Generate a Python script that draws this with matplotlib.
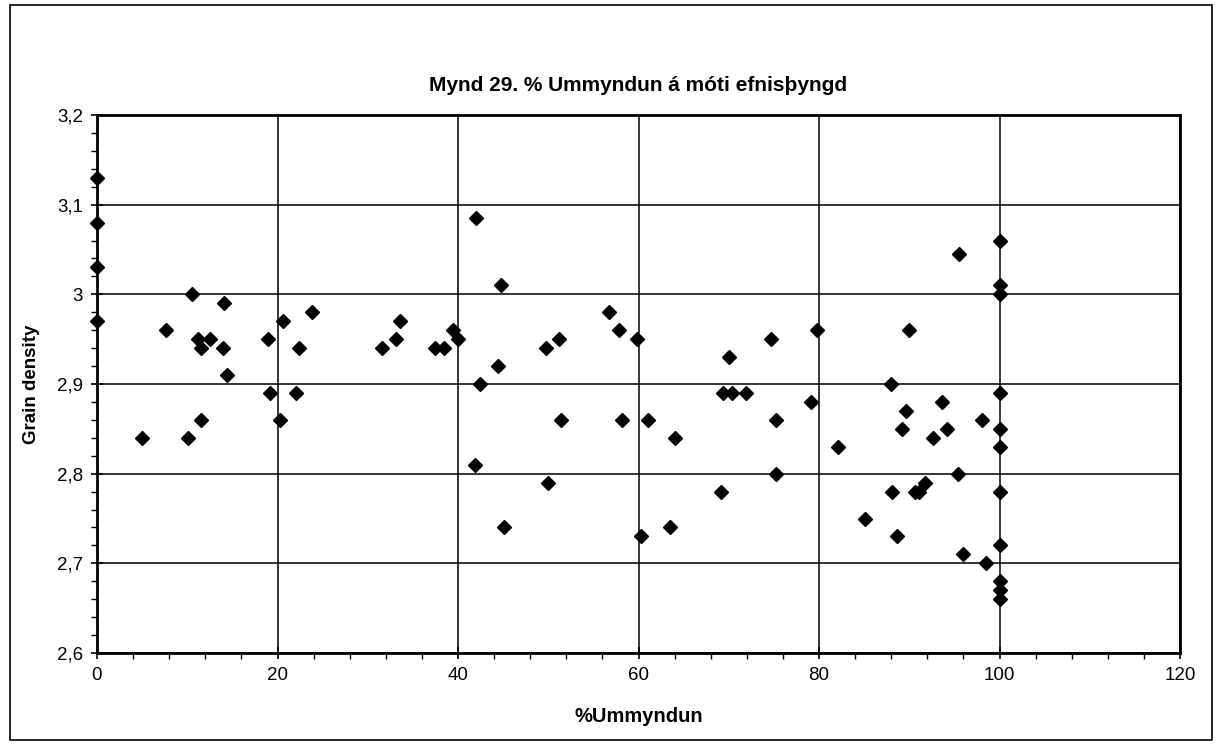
import matplotlib
matplotlib.use("Agg")
import matplotlib.pyplot as plt
from matplotlib.ticker import MultipleLocator, FuncFormatter
from matplotlib.patches import Rectangle

plt.rcParams['font.family'] = ['Liberation Sans', 'DejaVu Sans']

title = "Mynd 29. % Ummyndun á móti efnisþyngd"
xlabel = "%Ummyndun"
ylabel = "Grain density"

ummyndun = [0, 0, 0, 0, 5.0, 7.6, 10.1, 10.5, 11.2, 11.5, 11.5, 12.5, 14.0, 14.1, 14.4,
            19.0, 19.2, 20.3, 20.6, 22.0, 22.4, 23.8, 31.6, 33.1, 33.6, 37.5, 38.4,
            39.4, 40.0, 41.9, 42.0, 42.4, 44.4, 44.8, 45.1, 49.8, 50.0, 51.2, 51.4,
            56.7, 57.8, 58.2, 59.8, 60.3, 61.1, 63.5, 64.0, 69.1, 69.4, 70.0, 70.4,
            71.9, 74.7, 75.2, 75.2, 79.1, 79.8, 82.1, 85.1, 88.0, 88.1, 88.6, 89.2,
            89.6, 90.0, 90.6, 91.1, 91.7, 92.6, 93.6, 94.2, 95.4, 95.5, 96.0, 98.1,
            98.5, 100, 100, 100, 100, 100, 100, 100, 100, 100, 100, 100]
density = [3.13, 3.08, 3.03, 2.97, 2.84, 2.96, 2.84, 3.00, 2.95, 2.94, 2.86, 2.95, 2.94, 2.99, 2.91,
           2.95, 2.89, 2.86, 2.97, 2.89, 2.94, 2.98, 2.94, 2.95, 2.97, 2.94, 2.94,
           2.96, 2.95, 2.81, 3.085, 2.90, 2.92, 3.01, 2.74, 2.94, 2.79, 2.95, 2.86,
           2.98, 2.96, 2.86, 2.95, 2.73, 2.86, 2.74, 2.84, 2.78, 2.89, 2.93, 2.89,
           2.89, 2.95, 2.86, 2.80, 2.88, 2.96, 2.83, 2.75, 2.90, 2.78, 2.73, 2.85,
           2.87, 2.96, 2.78, 2.78, 2.79, 2.84, 2.88, 2.85, 2.80, 3.045, 2.71, 2.86,
           2.70, 3.06, 3.01, 3.00, 2.89, 2.85, 2.83, 2.78, 2.72, 2.68, 2.67, 2.66]

W, H = 1218, 753
fig = plt.figure(figsize=(W / 100, H / 100), dpi=100)
fig.patch.set_facecolor('white')

# outer chart border
fig.patches.append(Rectangle((10 / W, 1 - 740 / H), (1212 - 10) / W, (740 - 5) / H,
                             transform=fig.transFigure, fill=False, edgecolor='black',
                             linewidth=1.2))

ax = fig.add_axes([97 / W, 1 - 653 / H, (1180 - 97) / W, (653 - 115) / H])
ax.set_xlim(0, 120)
ax.set_ylim(2.6, 3.2)
ax.xaxis.set_major_locator(MultipleLocator(20))
ax.xaxis.set_minor_locator(MultipleLocator(4))
ax.yaxis.set_major_locator(MultipleLocator(0.1))
ax.yaxis.set_minor_locator(MultipleLocator(0.02))

def yfmt(v, pos):
    s = f"{v:.1f}"
    if s.endswith(".0"):
        s = s[:-2]
    return s.replace(".", ",")

ax.yaxis.set_major_formatter(FuncFormatter(yfmt))
ax.xaxis.set_major_formatter(FuncFormatter(lambda v, p: f"{v:.0f}"))

ax.grid(True, which='major', color='black', linewidth=1.1)
ax.set_axisbelow(True)
for sp in ax.spines.values():
    sp.set_linewidth(2.0)
    sp.set_color('black')

ax.tick_params(which='major', direction='inout', length=8, width=1.2, labelsize=13.5, pad=6)
ax.tick_params(which='minor', direction='out', length=4, width=1.0)

ax.plot(ummyndun, density, linestyle='none', marker='D', markersize=7,
        color='black', clip_on=False, zorder=3)

ax.set_title(title, fontsize=15, fontweight='bold', pad=17)
ax.set_xlabel(xlabel, fontsize=14.5, fontweight='bold', labelpad=17)
ax.set_ylabel(ylabel, fontsize=13.5, fontweight='bold', labelpad=12)

fig.savefig("out.png", dpi=100, facecolor='white')
